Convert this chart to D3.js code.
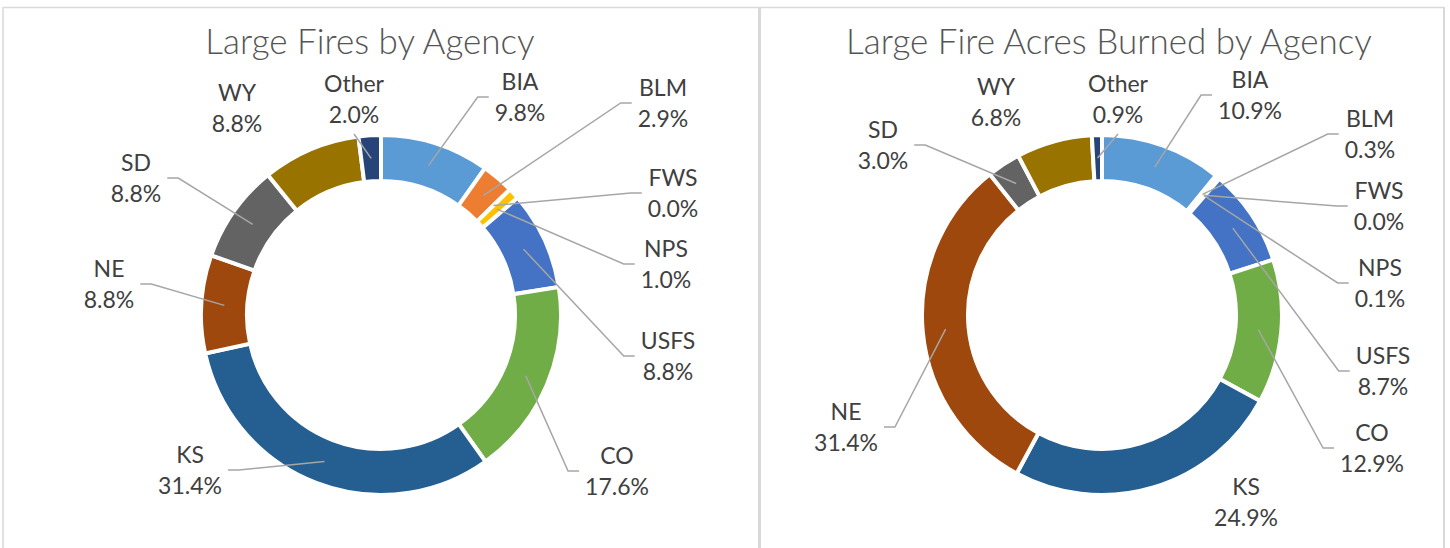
<!DOCTYPE html>
<html>
<head>
<meta charset="utf-8">
<script src="https://cdn.jsdelivr.net/npm/d3@7"></script>
<style>
    body { margin: 0; background: #ffffff; }
    svg { display: block; }
</style>
</head>
<body>
<svg class="fireCharts" width="1450" height="548"></svg>
<script>
// Chart data.
let agencies = ["BIA", "BLM", "FWS", "NPS", "USFS", "CO", "KS", "NE", "SD", "WY", "Other"];
let firesPercent = [9.8, 2.9, 0.0, 1.0, 8.8, 17.6, 31.4, 8.8, 8.8, 8.8, 2.0];
let acresPercent = [10.9, 0.3, 0.0, 0.1, 8.7, 12.9, 24.9, 31.4, 3.0, 6.8, 0.9];

// Office theme palette, one per agency.
let agencyColors = ["#5B9BD5", "#ED7D31", "#A5A5A5", "#FFC000", "#4472C4", "#70AD47",
    "#255E91", "#9E480E", "#636363", "#997300", "#264478"];

// Label placement (offset of label block center from donut center) and leader visibility.
let firesLabelOffsets = [[139, -218], [282, -212], [292, -122], [285, -51], [287, 41], [236, 156],
    [-191, 155], [-272, -31], [-245, -137], [-144, -207], [-27, -216]];
let firesLeaders = [true, true, true, true, true, true, true, true, true, false, true];
let acresLabelOffsets = [[148, -220], [268, -181], [277, -109], [278, -32], [281, 56], [270, 133],
    [144, 187], [-256, 112], [-219, -170], [-106, -213], [16, -216]];
let acresLeaders = [true, true, true, true, true, true, false, true, true, false, true];

let fontFamily = "Lato, 'Open Sans', sans-serif";

function drawFrame(svg) {
    let frame = svg.append("g").attr("stroke", "#D9D9D9").attr("fill", "none");
    frame.append("line").attr("x1", 3).attr("x2", 1444).attr("y1", 7.5).attr("y2", 7.5).attr("stroke-width", 1.5);
    frame.append("line").attr("x1", 3).attr("x2", 3).attr("y1", 7).attr("y2", 548).attr("stroke-width", 1.5);
    frame.append("line").attr("x1", 1444).attr("x2", 1444).attr("y1", 7).attr("y2", 548).attr("stroke-width", 2);
    frame.append("line").attr("x1", 759.5).attr("x2", 759.5).attr("y1", 7).attr("y2", 548).attr("stroke-width", 3);
}

/**
 *   svg: d3 selection to draw into
 *   attr: center, radii, title and label layout for one donut
 */
function drawDonutChart(svg, attr) {
    let values = attr.values;

    let chart = svg.append("g")
        .attr("transform", "translate(" + attr.cx + "," + attr.cy + ")");

    // Title.
    svg.append("text")
        .attr("x", attr.titleX)
        .attr("y", 54)
        .attr("text-anchor", "middle")
        .attr("font-family", fontFamily)
        .attr("font-weight", 300)
        .attr("font-size", attr.titleSize)
        .attr("fill", "#555555")
        .text(attr.title);

    let pie = d3.pie()
        .sort(null)
        .value(d => d.value);
    let arcs = pie(agencies.map((a, i) => ({ name: a, value: values[i], color: agencyColors[i] })));

    let arcGen = d3.arc()
        .innerRadius(attr.innerRadius)
        .outerRadius(attr.outerRadius);

    // Draw slices.
    chart.selectAll("path.slice")
        .data(arcs)
        .enter()
        .append("path")
        .attr("class", "slice")
        .attr("d", arcGen)
        .attr("fill", d => d.data.color)
        .attr("stroke", "#ffffff")
        .attr("stroke-width", 4);

    // Leader target sits in the middle of the ring.
    let midRadius = (attr.innerRadius + attr.outerRadius) / 2;
    let lineHeight = 31;

    arcs.forEach((d, i) => {
        let angle = (d.startAngle + d.endAngle) / 2;
        let px = midRadius * Math.sin(angle);
        let py = -midRadius * Math.cos(angle);
        let lx = attr.labelOffsets[i][0];
        let ly = attr.labelOffsets[i][1];

        let label = chart.append("text")
            .attr("text-anchor", "middle")
            .attr("font-family", fontFamily)
            .attr("font-size", 23)
            .attr("fill", "#404040");
        label.append("tspan")
            .attr("x", lx)
            .attr("y", ly - lineHeight / 2)
            .attr("dy", "0.35em")
            .text(d.data.name);
        label.append("tspan")
            .attr("x", lx)
            .attr("y", ly + lineHeight / 2)
            .attr("dy", "0.35em")
            .text(d3.format(".1f")(d.data.value) + "%");

        if (!attr.leaders[i]) return;

        // Width of the widest line in the label block.
        let halfWidth = d3.max(label.selectAll("tspan").nodes(), n => n.getComputedTextLength()) / 2;
        let points;
        if (ly + lineHeight < py && Math.abs(px - lx) < halfWidth) {
            // Label straight above the slice: attach at its bottom.
            points = [[lx, ly + lineHeight + 4], [px, py]];
        } else if (lx > px) {
            let edge = lx - halfWidth - 6;
            points = [[edge, ly], [edge - 11, ly], [px, py]];
        } else {
            let edge = lx + halfWidth + 6;
            points = [[edge, ly], [edge + 11, ly], [px, py]];
        }
        chart.append("path")
            .attr("d", d3.line()(points))
            .attr("fill", "none")
            .attr("stroke", "#A6A6A6")
            .attr("stroke-width", 1.5);
    });
}

let svg = d3.select(".fireCharts");
drawFrame(svg);

drawDonutChart(svg, {
    title: "Large Fires by Agency",
    titleX: 370,
    titleSize: 35,
    cx: 381,
    cy: 315,
    innerRadius: 134,
    outerRadius: 180,
    values: firesPercent,
    labelOffsets: firesLabelOffsets,
    leaders: firesLeaders
});

drawDonutChart(svg, {
    title: "Large Fire Acres Burned by Agency",
    titleX: 1109,
    titleSize: 35,
    cx: 1102,
    cy: 315,
    innerRadius: 134,
    outerRadius: 180,
    values: acresPercent,
    labelOffsets: acresLabelOffsets,
    leaders: acresLeaders
});
</script>
</body>
</html>
